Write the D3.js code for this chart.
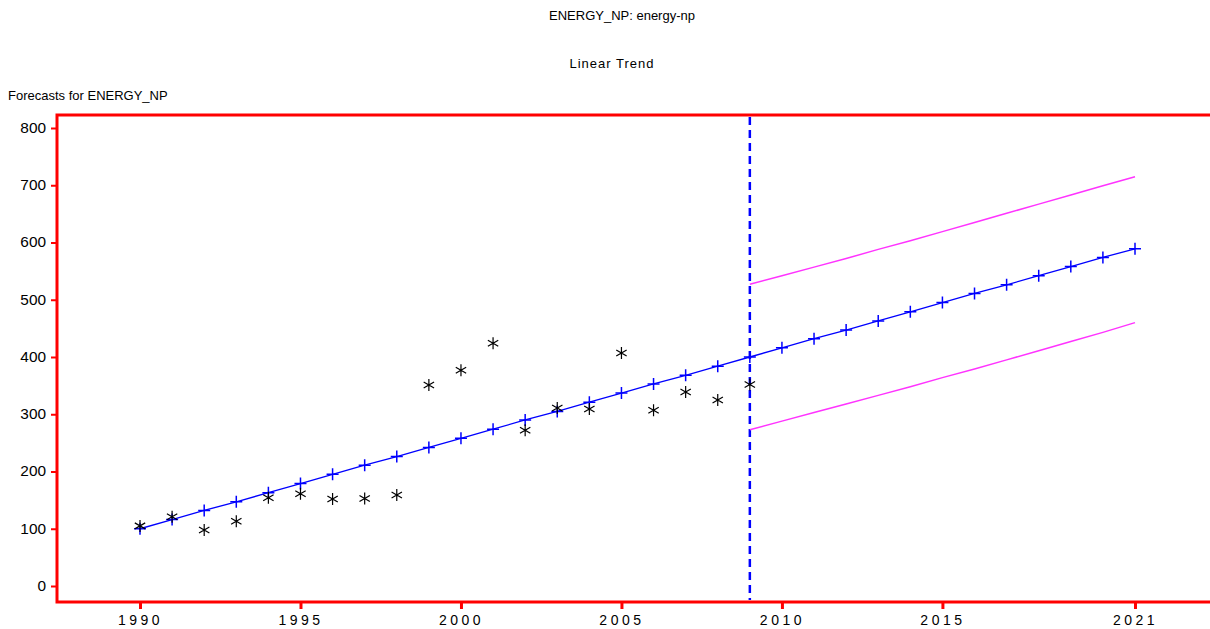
<!DOCTYPE html>
<html>
<head>
<meta charset="utf-8">
<script src="https://cdn.jsdelivr.net/npm/d3@7"></script>
<style>
  body { margin: 0; background: #fff; overflow: hidden; }
  svg { display: block; font-family: "Liberation Sans", Arial, sans-serif; }
</style>
</head>
<body>
<svg id="chart" width="1210" height="629"></svg>
<script>
// observed values (asterisks)
const actualYears = [1990, 1991, 1992, 1993, 1994, 1995, 1996, 1997, 1998, 1999,
  2000, 2001, 2002, 2003, 2004, 2005, 2006, 2007, 2008, 2009];
const actualValues = [105, 121, 98, 113, 154, 161, 152, 153, 159, 351,
  377, 424, 272, 311, 309, 407, 307, 339, 325, 352];

// fitted linear trend + forecast (plus markers)
const trendYears = [1990, 1991, 1992, 1993, 1994, 1995, 1996, 1997, 1998, 1999,
  2000, 2001, 2002, 2003, 2004, 2005, 2006, 2007, 2008, 2009,
  2010, 2011, 2012, 2013, 2014, 2015, 2016, 2017, 2018, 2019, 2020, 2021];
const trendValues = [100, 116, 132, 147, 163, 179, 195, 211, 226, 242,
  258, 274, 290, 305, 321, 337, 353, 368, 384, 400,
  416, 432, 447, 463, 479, 495, 511, 526, 542, 558, 574, 589];

// confidence limits for the forecast period
const bandYears = [2009, 2010, 2011, 2012, 2013, 2014, 2015, 2016, 2017, 2018, 2019, 2020, 2021];
const upperValues = [527, 542, 557, 572, 588, 603, 619, 635, 651, 667, 683, 699, 715];
const lowerValues = [273, 288, 303, 318, 333, 348, 364, 379, 395, 411, 427, 443, 460];

const forecastStart = 2009;
const xTickYears = [1990, 1995, 2000, 2005, 2010, 2015, 2021];
const yTickValues = [0, 100, 200, 300, 400, 500, 600, 700, 800];

const svg = d3.select("#chart");

const x = d3.scaleLinear().domain([1990, 2021]).range([140, 1135]);
const y = d3.scaleLinear().domain([0, 800]).range([586, 128]);

const frameLeft = 57, frameTop = 115, frameBottom = 602, frameRight = 1230;

// titles
svg.append("text").attr("x", 622).attr("y", 20).attr("text-anchor", "middle")
  .attr("font-size", 13).text("ENERGY_NP: energy-np");
svg.append("text").attr("x", 612).attr("y", 68).attr("text-anchor", "middle")
  .attr("font-size", 13).attr("letter-spacing", 1).text("Linear Trend");
svg.append("text").attr("x", 8).attr("y", 100)
  .attr("font-size", 13).text("Forecasts for ENERGY_NP");

// y axis labels & ticks
const yAxis = svg.append("g").attr("transform", `translate(${frameLeft},0)`)
  .call(d3.axisLeft(y).tickValues(yTickValues).tickSize(6).tickPadding(4));
yAxis.select(".domain").remove();
yAxis.selectAll(".tick line").attr("stroke", "red").attr("stroke-width", 2);
yAxis.selectAll(".tick text").attr("font-size", 14).attr("fill", "#000")
  .attr("font-family", "'Liberation Sans', Arial, sans-serif")
  .attr("transform", "scale(1.1,1)");

// x axis labels & ticks
const xAxis = svg.append("g").attr("transform", `translate(0,${frameBottom})`)
  .call(d3.axisBottom(x).tickValues(xTickYears).tickFormat(d3.format("d")).tickSize(7).tickPadding(6));
xAxis.select(".domain").remove();
xAxis.selectAll(".tick line").attr("stroke", "red").attr("stroke-width", 3);
xAxis.selectAll(".tick text").attr("font-size", 14).attr("fill", "#000")
  .attr("letter-spacing", 3.5)
  .attr("font-family", "'Liberation Sans', Arial, sans-serif");

// red frame (left, top, bottom) - open on the right
svg.append("path")
  .attr("d", `M${frameRight},${frameTop}H${frameLeft}V${frameBottom}H${frameRight}`)
  .attr("fill", "none").attr("stroke", "red").attr("stroke-width", 3);

// forecast boundary
svg.append("line")
  .attr("x1", x(forecastStart)).attr("x2", x(forecastStart))
  .attr("y1", frameTop + 2).attr("y2", frameBottom - 2)
  .attr("stroke", "blue").attr("stroke-width", 2.5).attr("stroke-dasharray", "8,5");

// confidence limits
const line = d3.line().x(d => x(d[0])).y(d => y(d[1]));
[upperValues, lowerValues].forEach(vals => {
  svg.append("path")
    .attr("d", line(bandYears.map((yr, i) => [yr, vals[i]])))
    .attr("fill", "none").attr("stroke", "#ff33ff").attr("stroke-width", 1.5);
});

// trend line
const trend = trendYears.map((yr, i) => [yr, trendValues[i]]);
svg.append("path").attr("d", line(trend))
  .attr("fill", "none").attr("stroke", "blue").attr("stroke-width", 1.3);

// plus markers
svg.append("g").selectAll("path").data(trend).join("path")
  .attr("d", d => `M${x(d[0]) - 6},${y(d[1])}h12M${x(d[0])},${y(d[1]) - 6}v12`)
  .attr("stroke", "blue").attr("stroke-width", 1.5);

// asterisks for actuals
const star = (cx, cy) => {
  const r = 6, dx = r * Math.cos(Math.PI / 6), dy = r * Math.sin(Math.PI / 6);
  return `M${cx},${cy - r}v${2 * r}M${cx - dx},${cy - dy}L${cx + dx},${cy + dy}M${cx - dx},${cy + dy}L${cx + dx},${cy - dy}`;
};
svg.append("g").selectAll("path").data(actualYears).join("path")
  .attr("d", (yr, i) => star(x(yr), y(actualValues[i])))
  .attr("stroke", "#000").attr("stroke-width", 1.2);
</script>
</body>
</html>
